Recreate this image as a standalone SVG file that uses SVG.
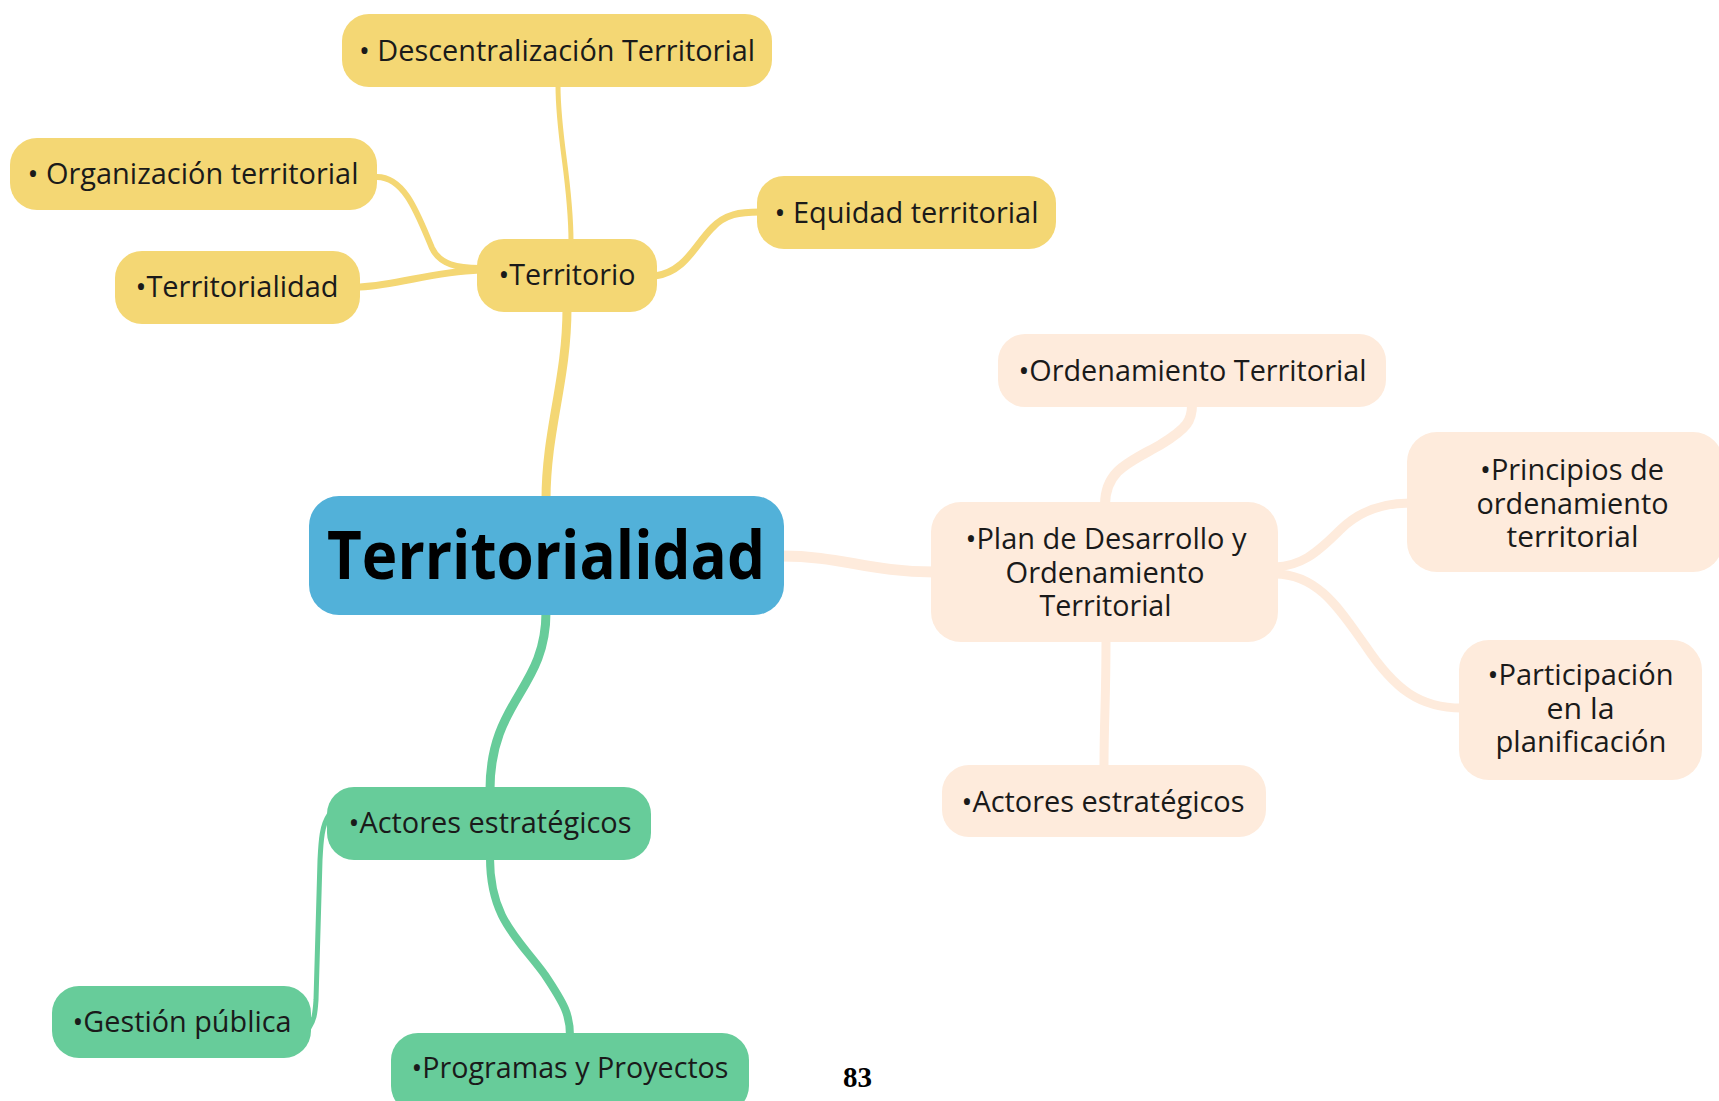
<svg xmlns="http://www.w3.org/2000/svg" width="1719" height="1101" viewBox="0 0 1719 1101">
<style>
.y{fill:#F4D774}.g{fill:#67CC9A}.p{fill:#FEEBDC}.b{fill:#52B1D9}
.t{font-family:"Open Sans","Noto Sans",sans-serif;font-size:28.7px;fill:#1a1a1a;text-anchor:middle}
.big{font-family:"Open Sans","Noto Sans",sans-serif;font-size:66px;font-weight:bold;fill:#000;text-anchor:middle}
.cy{fill:none;stroke:#F4D774;stroke-linecap:round}
.cg{fill:none;stroke:#67CC9A;stroke-linecap:round}
.cp{fill:none;stroke:#FEEBDC;stroke-linecap:round}
</style>
<rect width="1719" height="1101" fill="#fff"/>
<g id="connectors">
<path class="cy" stroke-width="9" d="M546,500 C546,430 567,380 567,308"/>
<path class="cy" stroke-width="5" d="M571,242 C571,180 558,140 558,85"/>
<path class="cy" stroke-width="6" d="M377,177 C405,177 418,215 432,248 C440,265 458,268 480,268"/>
<path class="cy" stroke-width="7" d="M360,287 C400,285 430,272 480,270"/>
<path class="cy" stroke-width="7" d="M655,276 C685,272 695,245 712,228 C725,214 740,212 760,212"/>
<path class="cp" stroke-width="11" d="M782,556 C840,556 870,572 934,572"/>
<path class="cp" stroke-width="10" d="M1105,505 C1105,470 1130,462 1160,445 C1188,428 1192,420 1192,405"/>
<path class="cp" stroke-width="9" d="M1106,640 C1106,700 1104,720 1104,767"/>
<path class="cp" stroke-width="9" d="M1275,567 C1300,566 1315,555 1340,530 C1360,510 1385,503 1410,503"/>
<path class="cp" stroke-width="9" d="M1275,574 C1318,574 1340,610 1365,645 C1395,690 1420,708 1462,708"/>
<path class="cg" stroke-width="9" d="M546,612 C546,690 490,700 490,790"/>
<path class="cg" stroke-width="5" d="M329,815 C322,825 321,840 320,860 L316,1000 C315,1015 314,1020 309,1028"/>
<path class="cg" stroke-width="8" d="M490,858 C490,920 520,940 545,975 C565,1005 570,1015 570,1036"/>
</g>
<g id="n-descentralizacion"><rect class="y" x="342" y="14" width="430" height="73" rx="27"/><text class="t" x="557" y="60.5" textLength="396" lengthAdjust="spacingAndGlyphs">• Descentralización Territorial</text></g>
<g id="n-organizacion"><rect class="y" x="10" y="138" width="367" height="72" rx="27"/><text class="t" x="193" y="184" textLength="331" lengthAdjust="spacingAndGlyphs">• Organización territorial</text></g>
<g id="n-territorialidad-small"><rect class="y" x="115" y="251" width="245" height="73" rx="27"/><text class="t" x="237" y="297" textLength="203" lengthAdjust="spacingAndGlyphs">•Territorialidad</text></g>
<g id="n-territorio"><rect class="y" x="477" y="239" width="180" height="73" rx="27"/><text class="t" x="567" y="285" textLength="137" lengthAdjust="spacingAndGlyphs">•Territorio</text></g>
<g id="n-equidad"><rect class="y" x="757" y="176" width="299" height="73" rx="27"/><text class="t" x="906.5" y="223" textLength="264" lengthAdjust="spacingAndGlyphs">• Equidad territorial</text></g>
<g id="n-central"><rect class="b" x="309" y="496" width="475" height="119" rx="30"/><text class="big" x="546" y="579" textLength="438" lengthAdjust="spacingAndGlyphs">Territorialidad</text></g>
<g id="n-ordenamiento"><rect class="p" x="998" y="334" width="388" height="73" rx="27"/><text class="t" x="1192.5" y="381" textLength="348" lengthAdjust="spacingAndGlyphs">•Ordenamiento Territorial</text></g>
<g id="n-plan"><rect class="p" x="931" y="502" width="347" height="140" rx="30"/>
<text class="t" x="1106" y="548.5" textLength="281" lengthAdjust="spacingAndGlyphs">•Plan de Desarrollo y</text>
<text class="t" x="1105" y="582.5" textLength="199" lengthAdjust="spacingAndGlyphs">Ordenamiento</text>
<text class="t" x="1105.5" y="616" textLength="132" lengthAdjust="spacingAndGlyphs">Territorial</text></g>
<g id="n-principios"><rect class="p" x="1407" y="432" width="316" height="140" rx="30"/>
<text class="t" x="1572" y="480" textLength="184" lengthAdjust="spacingAndGlyphs">•Principios de</text>
<text class="t" x="1572.5" y="514" textLength="192" lengthAdjust="spacingAndGlyphs">ordenamiento</text>
<text class="t" x="1572.5" y="547" textLength="132" lengthAdjust="spacingAndGlyphs">territorial</text></g>
<g id="n-participacion"><rect class="p" x="1459" y="640" width="243" height="140" rx="30"/>
<text class="t" x="1580.5" y="685" textLength="186" lengthAdjust="spacingAndGlyphs">•Participación</text>
<text class="t" x="1580.5" y="718.5" textLength="68" lengthAdjust="spacingAndGlyphs">en la</text>
<text class="t" x="1581" y="752" textLength="171" lengthAdjust="spacingAndGlyphs">planificación</text></g>
<g id="n-actores-plan"><rect class="p" x="942" y="765" width="324" height="72" rx="27"/><text class="t" x="1103" y="812" textLength="283" lengthAdjust="spacingAndGlyphs">•Actores estratégicos</text></g>
<g id="n-actores"><rect class="g" x="327" y="787" width="324" height="73" rx="27"/><text class="t" x="490" y="833" textLength="283" lengthAdjust="spacingAndGlyphs">•Actores estratégicos</text></g>
<g id="n-gestion"><rect class="g" x="52" y="986" width="259" height="72" rx="27"/><text class="t" x="182" y="1032" textLength="219" lengthAdjust="spacingAndGlyphs">•Gestión pública</text></g>
<g id="n-programas"><rect class="g" x="391" y="1033" width="358" height="80" rx="27"/><text class="t" x="570" y="1078" textLength="317" lengthAdjust="spacingAndGlyphs">•Programas y Proyectos</text></g>
<text x="857.5" y="1087" font-family="'Liberation Serif','Times New Roman',serif" font-size="29" font-weight="bold" text-anchor="middle" fill="#000">83</text>
</svg>
